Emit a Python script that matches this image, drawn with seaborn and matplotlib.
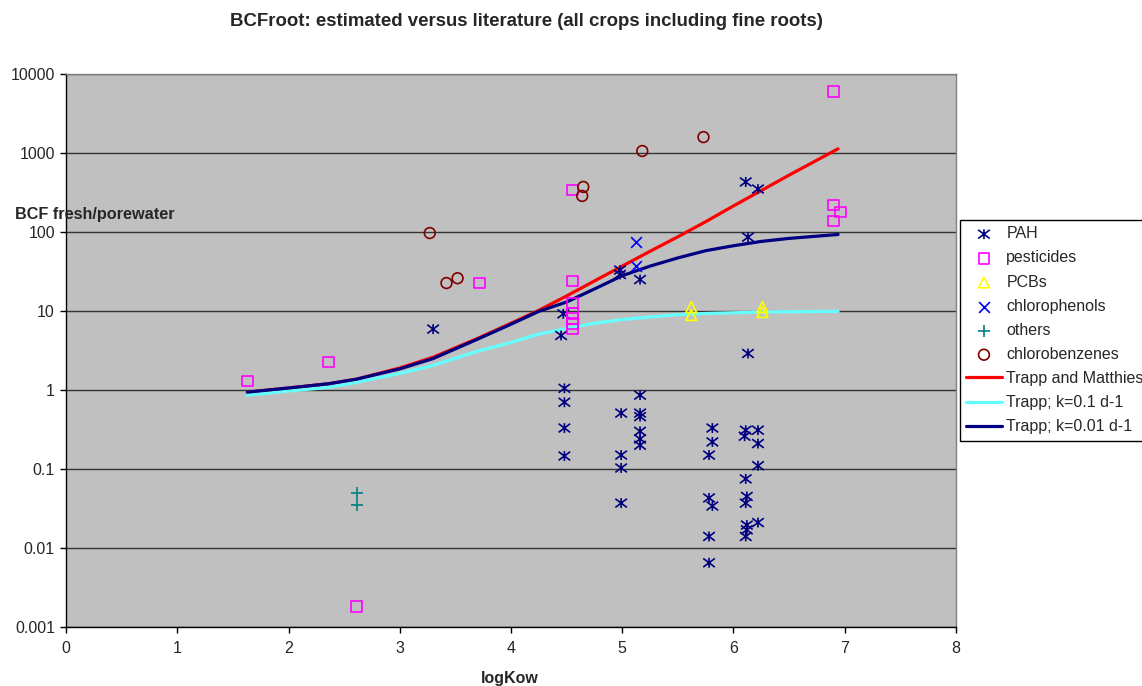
import matplotlib
matplotlib.use("Agg")
import matplotlib.pyplot as plt
import seaborn as sns
from matplotlib.path import Path
from matplotlib.ticker import FixedLocator, NullLocator

# ── Data ──────────────────────────────────────────────────────
pah_x = [3.30, 4.47, 4.45, 4.48, 4.48, 4.48, 4.48,
         4.99, 4.99, 4.99, 4.99, 4.98, 4.98,
         5.16, 5.16, 5.16, 5.16, 5.16, 5.16, 5.16,
         5.81, 5.81, 5.78, 5.78, 5.81, 5.78, 5.78,
         6.11, 6.10, 6.22, 6.22, 6.22, 6.11, 6.12, 6.11, 6.22, 6.12, 6.12, 6.11,
         6.11, 6.22, 6.13, 6.13]
pah_y = [5.9, 9.2, 4.9, 1.05, 0.70, 0.33, 0.146,
         0.51, 0.15, 0.103, 0.037, 33, 29,
         25, 0.86, 0.51, 0.46, 0.30, 0.24, 0.20,
         0.33, 0.22, 0.15, 0.043, 0.034, 0.014, 0.0065,
         0.31, 0.26, 0.31, 0.21, 0.11, 0.075, 0.045, 0.037, 0.021, 0.0195, 0.017, 0.014,
         430, 350, 86, 2.9]

pest_x = [1.63, 2.36, 2.61, 3.72, 4.55, 4.55, 4.55, 4.55, 4.55, 4.55, 4.55,
          6.90, 6.90, 6.96, 6.90]
pest_y = [1.3, 2.26, 0.0018, 22.6, 340, 24, 12.6, 9.4, 8.1, 7.0, 5.9,
          5960, 220, 179, 138]

pcb_x = [5.62, 5.62, 6.26, 6.26]
pcb_y = [11.2, 8.9, 11.2, 9.7]

cphen_x = [5.12, 5.12]
cphen_y = [75, 37]

other_x = [2.62, 2.62]
other_y = [0.050, 0.035]

cbenz_x = [3.27, 3.42, 3.52, 4.65, 4.64, 5.18, 5.73]
cbenz_y = [97, 22.6, 26, 372, 286, 1060, 1590]

line_x = [1.63, 2.00, 2.36, 2.61, 3.00, 3.30, 3.70, 4.00, 4.25, 4.50, 4.75,
          5.00, 5.25, 5.50, 5.75, 6.00, 6.25, 6.50, 6.94]
trapp_matthies = [0.94, 1.06, 1.2, 1.37, 1.9, 2.6, 4.5, 7.0, 10.2, 15.5, 24,
                  37, 57, 87, 135, 214, 335, 525, 1130]
trapp_k01 = [0.86, 0.97, 1.08, 1.25, 1.62, 2.05, 3.1, 4.0, 5.1, 6.0, 7.0,
             7.8, 8.4, 9.0, 9.3, 9.5, 9.7, 9.8, 9.9]
trapp_k001 = [0.94, 1.06, 1.2, 1.37, 1.85, 2.5, 4.4, 6.8, 9.9, 13.0, 19,
              28, 37, 47, 58, 67, 76, 83, 93]

y_ticks = [0.001, 0.01, 0.1, 1, 10, 100, 1000, 10000]
y_labels = ["0.001", "0.01", "0.1", "1", "10", "100", "1000", "10000"]

# ── Style ─────────────────────────────────────────────────────
sns.set_style("ticks")
plt.rcParams["font.family"] = ["Liberation Sans", "DejaVu Sans"]

# Excel-style asterisk: vertical bar plus a wide X
star = Path([(0, -0.85), (0, 0.85), (-1, -0.75), (1, 0.75), (-1, 0.75), (1, -0.75)],
            [Path.MOVETO, Path.LINETO, Path.MOVETO, Path.LINETO, Path.MOVETO, Path.LINETO])

fig = plt.figure(figsize=(11.42, 6.86), dpi=100)
ax = fig.add_axes([66 / 1142, 1 - 627 / 686, 890 / 1142, 553 / 686])
ax.set_facecolor("#C0C0C0")
ax.set_yscale("log")

# ── Model curves ──────────────────────────────────────────────
sns.lineplot(x=line_x, y=trapp_matthies, color="#FF0000", linewidth=2.3,
             label="Trapp and Matthies", ax=ax, zorder=3)
sns.lineplot(x=line_x, y=trapp_k01, color="#66FFFF", linewidth=2.3,
             label="Trapp; k=0.1 d-1", ax=ax, zorder=3)
sns.lineplot(x=line_x, y=trapp_k001, color="#000080", linewidth=2.3,
             label="Trapp; k=0.01 d-1", ax=ax, zorder=3)

# ── Literature points ─────────────────────────────────────────
sns.scatterplot(x=pah_x, y=pah_y, marker=star, s=70, facecolor="none",
                edgecolor="#000080", linewidth=1.2, label="PAH", ax=ax, zorder=4)
sns.scatterplot(x=pest_x, y=pest_y, marker="s", s=60, facecolor="none",
                edgecolor="#FF00FF", linewidth=1.2, label="pesticides", ax=ax, zorder=4)
sns.scatterplot(x=pcb_x, y=pcb_y, marker="^", s=60, facecolor="none",
                edgecolor="#FFFF00", linewidth=1.2, label="PCBs", ax=ax, zorder=4)
sns.scatterplot(x=cphen_x, y=cphen_y, marker="x", s=60, color="#0000FF",
                linewidth=1.2, label="chlorophenols", ax=ax, zorder=4)
sns.scatterplot(x=other_x, y=other_y, marker="+", s=65, color="#008080",
                linewidth=1.2, label="others", ax=ax, zorder=4)
sns.scatterplot(x=cbenz_x, y=cbenz_y, marker="o", s=60, facecolor="none",
                edgecolor="#800000", linewidth=1.2, label="chlorobenzenes", ax=ax, zorder=4)

# ── Axes ──────────────────────────────────────────────────────
ax.set_xlim(0, 8)
ax.set_ylim(0.001, 10000)
ax.set_xticks(range(0, 9))
ax.yaxis.set_major_locator(FixedLocator(y_ticks))
ax.yaxis.set_minor_locator(NullLocator())
ax.set_yticklabels(y_labels)
ax.tick_params(axis="both", labelsize=11.5, direction="out", length=4, width=1,
               color="black")
ax.tick_params(axis="x", pad=6)
ax.tick_params(axis="y", pad=4)
ax.grid(axis="y", color="#333333", linewidth=1)
ax.grid(axis="x", visible=False)
for side in ["top", "right"]:
    ax.spines[side].set_color("#808080")
    ax.spines[side].set_linewidth(1)
for side in ["left", "bottom"]:
    ax.spines[side].set_color("black")
    ax.spines[side].set_linewidth(1)
ax.set_xlabel("")
ax.set_ylabel("")

# ── Texts ─────────────────────────────────────────────────────
fig.text(526 / 1142, 1 - 22 / 686, "BCFroot: estimated versus literature (all crops including fine roots)",
         ha="center", va="center", fontsize=13.4, fontweight="bold")
fig.text(15 / 1142, 1 - 215 / 686, "BCF fresh/porewater", ha="left", va="center",
         fontsize=11.7, fontweight="bold", zorder=10)
fig.text(510 / 1142, 1 - 678 / 686, "logKow", ha="center", va="center",
         fontsize=11.5, fontweight="bold")

# ── Legend ────────────────────────────────────────────────────
order = ["PAH", "pesticides", "PCBs", "chlorophenols", "others", "chlorobenzenes",
         "Trapp and Matthies", "Trapp; k=0.1 d-1", "Trapp; k=0.01 d-1"]
handles, labels = ax.get_legend_handles_labels()
lookup = dict(zip(labels, handles))
leg = ax.legend([lookup[k] for k in order], order, loc="upper left",
                bbox_to_anchor=(960 / 1142, 1 - 220 / 686), bbox_transform=fig.transFigure,
                borderaxespad=0, frameon=True, fancybox=False, edgecolor="black",
                framealpha=1, fontsize=11.5, handlelength=2.2, labelspacing=0.57,
                handletextpad=0.3, borderpad=0.4)
leg.get_frame().set_linewidth(1)

fig.savefig("out.png", dpi=100)
